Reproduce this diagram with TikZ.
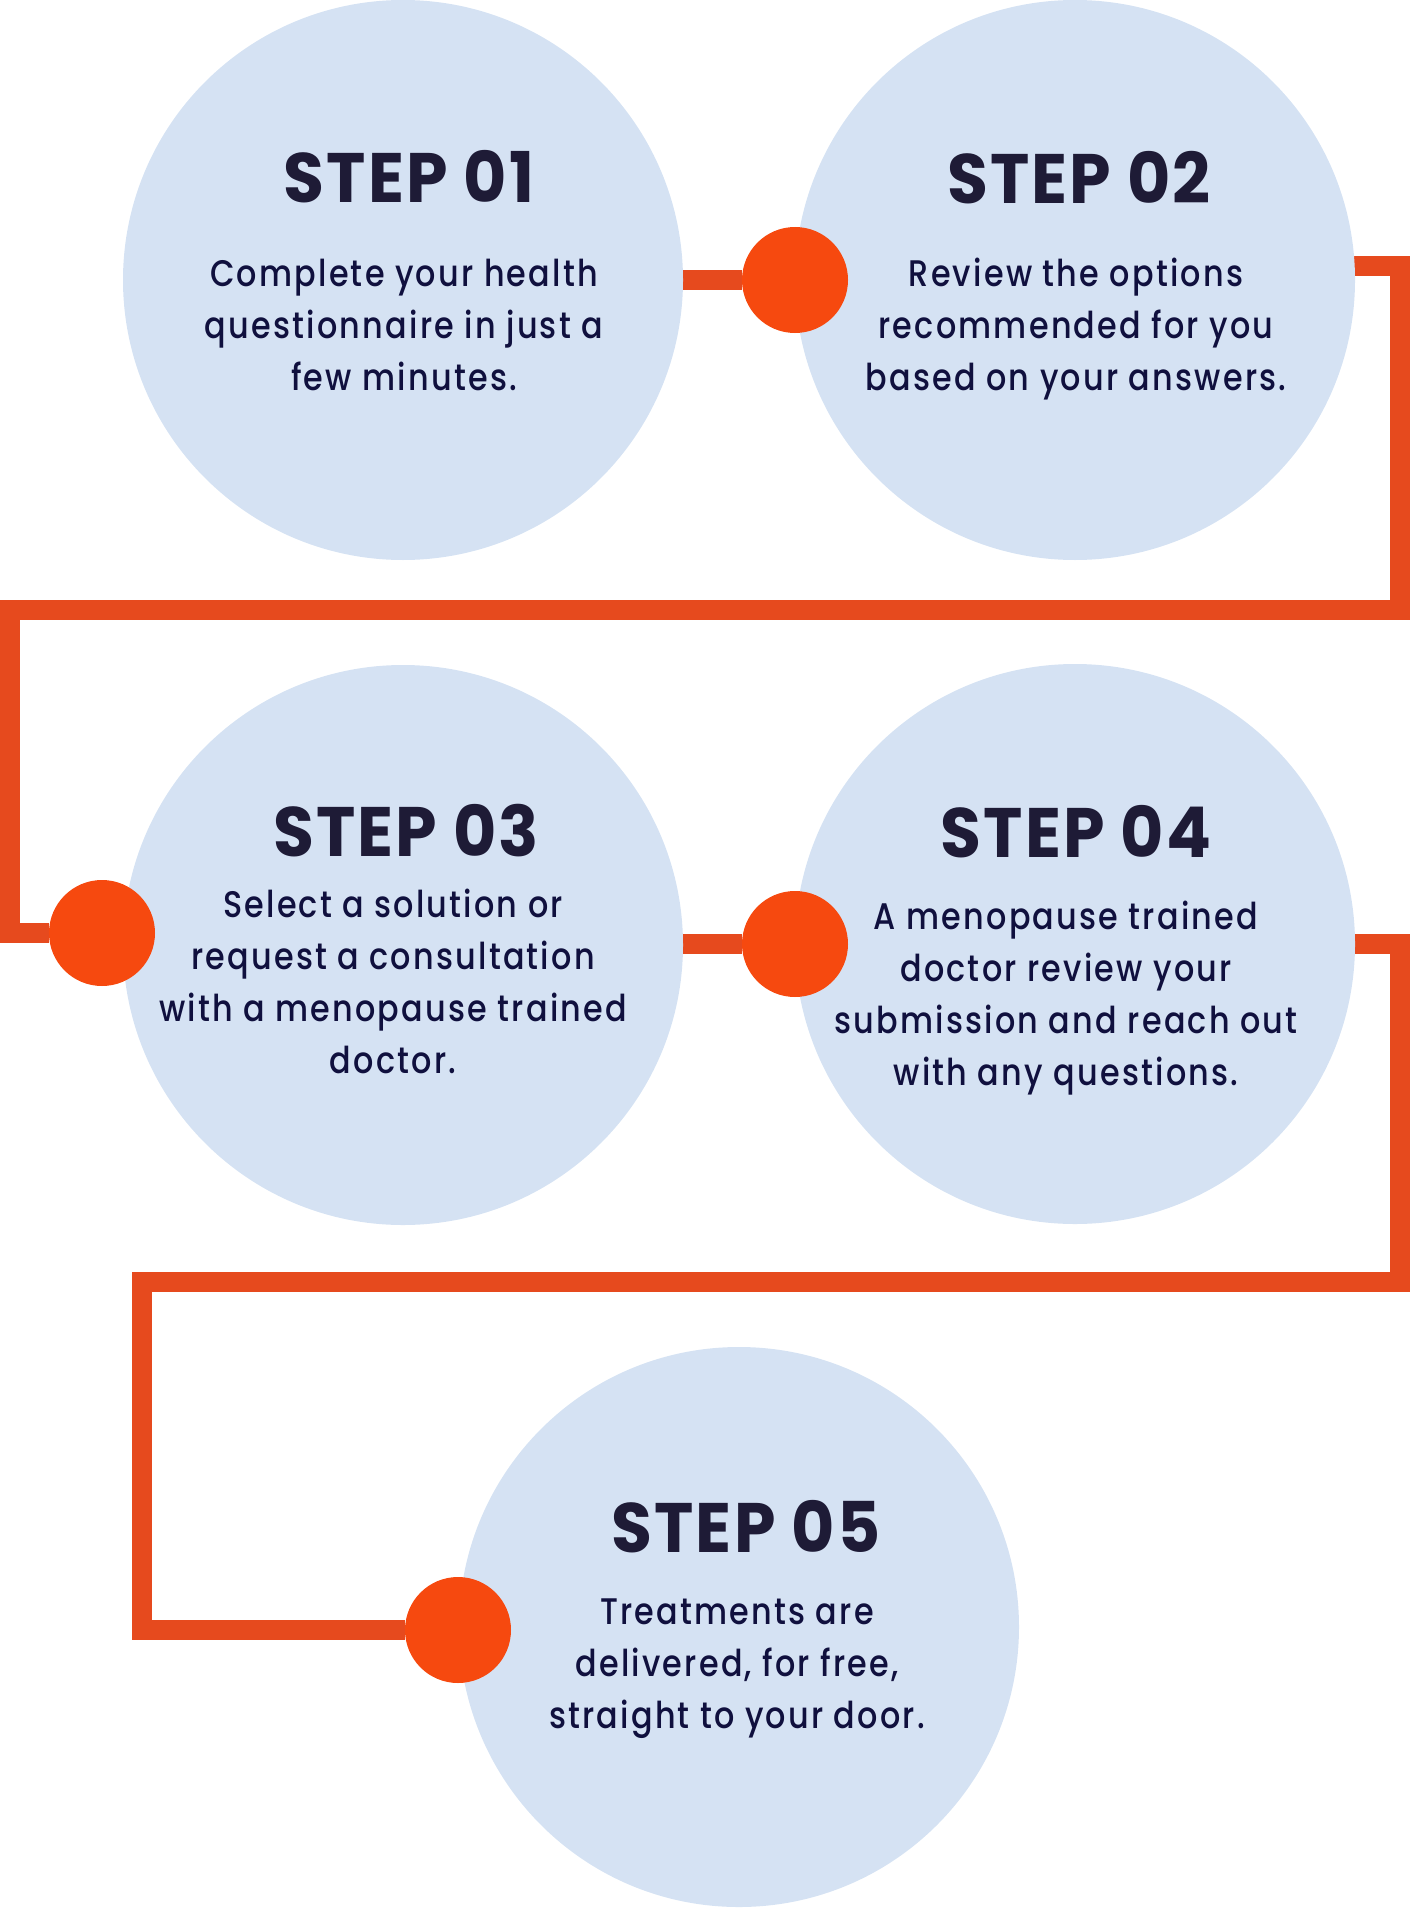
\documentclass[tikz,border=0pt]{standalone}
\usepackage{fontspec}
\setmainfont{Poppins Medium}[LetterSpace=6,FakeStretch=0.86]
\newfontfamily\steptitlefont{Poppins Bold}[FakeStretch=0.95,LetterSpace=3]
\usetikzlibrary{backgrounds}

\definecolor{stepblue}{HTML}{D5E2F3}
\definecolor{linkorange}{HTML}{E64A1E}
\definecolor{dotorange}{HTML}{F6490F}
\definecolor{titlenavy}{HTML}{1E1B36}
\definecolor{bodynavy}{HTML}{10103E}

\begin{document}
\begin{tikzpicture}[
  x=0.5pt, y=-0.5pt,
  stepcircle/.style={circle, fill=stepblue, minimum size=280pt, inner sep=0pt},
  stepdot/.style={circle, fill=dotorange, minimum size=53pt, inner sep=0pt},
  steptitle/.style={font=\steptitlefont\fontsize{35}{40}\selectfont,
                    text=titlenavy, inner sep=0pt},
  stepbody/.style={font=\fontsize{18.5}{26}\selectfont, text=bodynavy,
                   align=center, anchor=base, inner sep=0pt},
  link/.style={draw=linkorange, line width=10pt, miter limit=10}
]
  \useasboundingbox (0,0) rectangle (1410,1910);

  % circles
  \node[stepcircle] (s1) at (403,280) {};
  \node[stepcircle] (s2) at (1075,280) {};
  \node[stepcircle] (s3) at (403,945) {};
  \node[stepcircle] (s4) at (1075,944) {};
  \node[stepcircle] (s5) at (739,1627) {};

  % dots
  \node[stepdot] (d1) at (795,280) {};
  \node[stepdot] (d3) at (102,933) {};
  \node[stepdot] (d4) at (795,944) {};
  \node[stepdot] (d5) at (458,1630) {};

  % bends of the path
  \coordinate (b2) at (1400,266);
  \coordinate (b3) at (1400,610);
  \coordinate (b4) at (10,610);
  \coordinate (b5) at (1400,944);
  \coordinate (b6) at (1400,1282);
  \coordinate (b7) at (142,1282);

  \begin{pgfonlayer}{background}
    \draw[link] (s1) -- (d1);
    \draw[link] (s2 |- b2) -- (b2) -- (b3) -- (b4) -- (b4 |- d3) -- (d3);
    \draw[link] (s3 |- d4) -- (d4);
    \draw[link] (s4) -- (b5) -- (b6) -- (b7) -- (b7 |- d5) -- (d5);
  \end{pgfonlayer}

  % texts (body anchored on its last line)
  \node[steptitle] (t1) at (409,177) {STEP 01};
  \node[stepbody] (p1) at (404,390) {Complete your health\\questionnaire in just a\\few minutes.};
  \node[steptitle] (t2) at (1079,178) {STEP 02};
  \node[stepbody] (p2) at (1076,390) {Review the options\\recommended for you\\based on your answers.};
  \node[steptitle] (t3) at (406,831) {STEP 03};
  \node[stepbody] (p3) at (393,1073) {Select a solution or\\request a consultation\\with a menopause trained\\doctor.};
  \node[steptitle] (t4) at (1076,832) {STEP 04};
  \node[stepbody] (p4) at (1066,1085) {A menopause trained\\doctor review your\\submission and reach out\\with any questions.};
  \node[steptitle] (t5) at (746,1527) {STEP 05};
  \node[stepbody] (p5) at (737,1728) {Treatments are\\delivered, for free,\\straight to your door.};
\end{tikzpicture}
\end{document}
